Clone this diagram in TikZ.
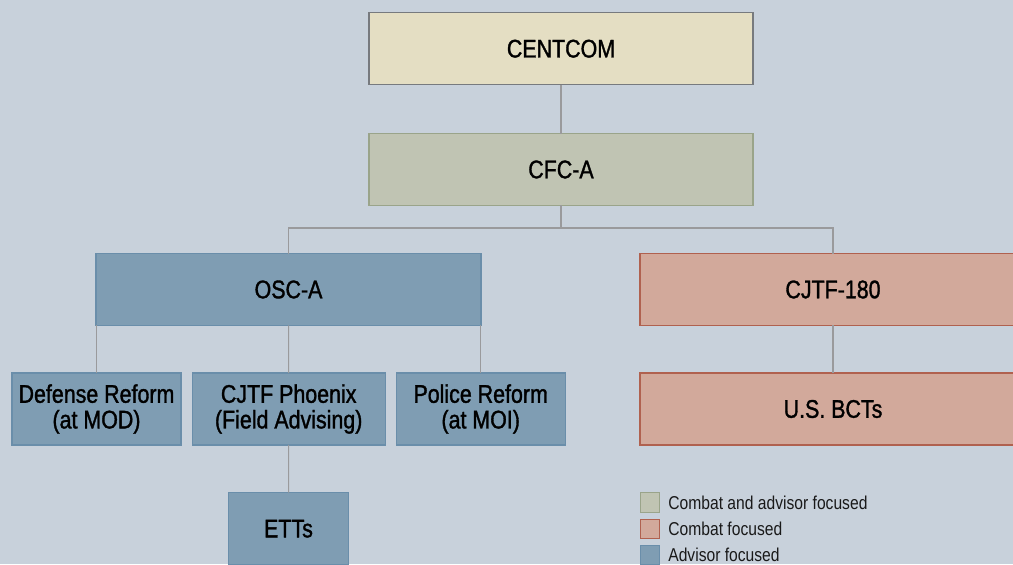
\documentclass[tikz,border=0pt]{standalone}
\usepackage{fontspec}
\setmainfont{Liberation Sans}[FakeStretch=0.84]
\newfontfamily\unitfont{Liberation Sans}[FakeStretch=0.84,FakeBold=1.3]
\definecolor{bgcol}{HTML}{C8D1DB}
\definecolor{topfill}{HTML}{E4DEC3}
\definecolor{topline}{HTML}{777A7E}
\definecolor{mixfill}{HTML}{C0C4B3}
\definecolor{mixline}{HTML}{9AA48A}
\definecolor{advfill}{HTML}{7F9DB3}
\definecolor{advline}{HTML}{6A8EAA}
\definecolor{cbtfill}{HTML}{D2A99B}
\definecolor{cbtline}{HTML}{B0614F}
\definecolor{wire}{HTML}{9A9A9C}
\begin{document}
\begin{tikzpicture}[x=0.02cm,y=-0.02cm,
	unit/.style={draw,line width=0.7pt,inner sep=0pt,outer sep=0pt,
		minimum height=1.44cm,align=center,text=black,
		font=\unitfont\fontsize{14.5}{14.6}\selectfont},
	topunit/.style={unit,fill=topfill,draw=topline},
	mixunit/.style={unit,fill=mixfill,draw=mixline},
	advunit/.style={unit,fill=advfill,draw=advline},
	cbtunit/.style={unit,fill=cbtfill,draw=cbtline},
	link/.style={draw=wire,line width=0.6pt},
	legbox/.style={draw,line width=0.6pt,minimum size=0.39cm,inner sep=0pt},
	legtext/.style={right,inner sep=0pt,text=black!90,font=\fontsize{10.6}{12}\selectfont}]
	\clip (0,0) rectangle (1013,564);
	\fill [bgcol] (0,0) rectangle (1013,564);
	% command chain
	\node [topunit,minimum width=7.68cm] (centcom) at (561,48.7) {CENTCOM};
	\node [mixunit,minimum width=7.68cm] (cfca) at (561,169.5) {CFC-A};
	\node [advunit,minimum width=7.70cm] (osca) at (288.5,289.5) {OSC-A};
	\node [cbtunit,minimum width=7.72cm] (cjtf) at (833,289.5) {CJTF-180};
	% lower tier
	\node [advunit,minimum width=3.38cm] (defense) at (96.5,409) {Defense Reform\\(at MOD)};
	\node [advunit,minimum width=3.86cm] (phoenix) at (288.7,409) {CJTF Phoenix\\(Field Advising)};
	\node [advunit,minimum width=3.38cm] (police) at (480.7,409) {Police Reform\\(at MOI)};
	\node [cbtunit,minimum width=7.72cm] (bcts) at (833,409) {U.S. BCTs};
	\node [advunit,minimum width=2.40cm] (etts) at (288.5,528.7) {ETTs};
	% connectors
	\coordinate (bus) at (561,228);
	\draw [link] (centcom) -- (cfca);
	\draw [link] (cfca) -- (bus);
	\draw [link] (osca.north) |- (bus) -| (cjtf.north);
	\draw [link] (osca.south west) -- (osca.south west |- defense.north);
	\draw [link] (osca) -- (phoenix);
	\draw [link] (osca.south east) -- (osca.south east |- police.north);
	\draw [link] (phoenix) -- (etts);
	\draw [link] (cjtf) -- (bcts);
	% legend
	\foreach \fc/\lc/\txt [count=\i] in {mixfill/mixline/Combat and advisor focused,
			cbtfill/cbtline/Combat focused,advfill/advline/Advisor focused} {
		\node [legbox,fill=\fc,draw=\lc] (leg\i) at (650,476.2+26.3*\i) {};
		\node [legtext] (legtxt\i) at (668,476.2+26.3*\i) {\txt};
	}
\end{tikzpicture}
\end{document}
